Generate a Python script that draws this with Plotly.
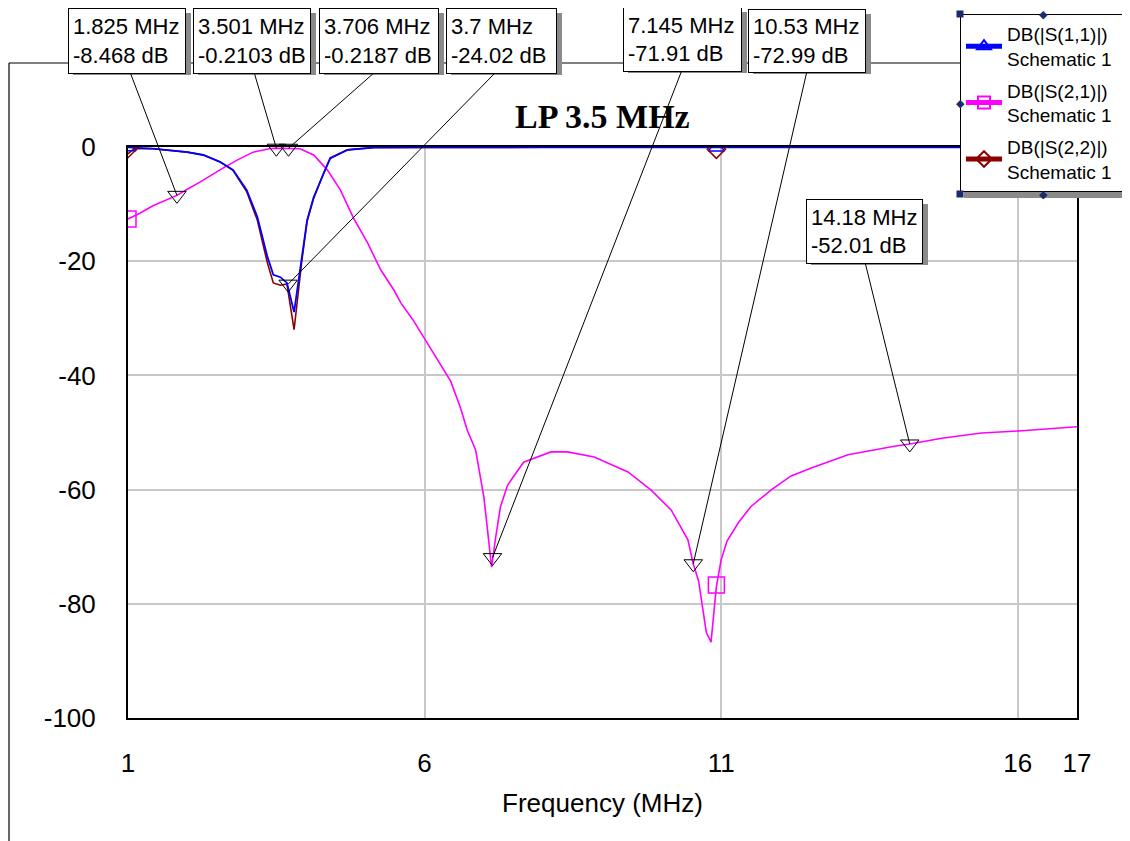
import plotly.graph_objects as go

# ---------------- data ----------------
freq21 = [1.0, 1.2, 1.42, 1.825, 2.0, 2.22, 2.55, 2.84, 3.11, 3.4, 3.501, 3.706, 3.9, 4.13,
          4.36, 4.58, 4.8, 5.04, 5.26, 5.48, 5.6, 5.8, 6.0, 6.2, 6.44, 6.6, 6.72, 6.86, 7.0,
          7.08, 7.13, 7.2, 7.28, 7.4, 7.67, 8.13, 8.41, 8.86, 9.43, 9.82, 10.16, 10.44, 10.53,
          10.62, 10.75, 10.83, 10.92, 11.0, 11.1, 11.29, 11.5, 11.85, 12.18, 12.52, 13.14,
          13.92, 14.18, 14.72, 15.39, 16.07, 17.0]
s21_db = [-12.6, -11.6, -10.3, -8.47, -7.4, -6.1, -4.0, -2.3, -0.9, -0.25, -0.21, -0.22, -0.3,
          -1.4, -4.0, -7.5, -12.4, -16.8, -21.5, -25.0, -27.3, -30.2, -33.5, -36.8, -41.0,
          -45.5, -49.6, -53.0, -61.3, -68.8, -73.6, -68.3, -63.0, -59.2, -55.2, -53.4, -53.4,
          -54.3, -56.9, -60.1, -63.6, -68.8, -73.0, -76.0, -85.0, -86.7, -77.0, -72.3, -69.0,
          -65.8, -63.0, -60.0, -57.6, -56.2, -53.9, -52.4, -52.0, -51.0, -50.1, -49.7, -49.0]

freq11 = [1.0, 1.1, 1.42, 2.0, 2.27, 2.55, 2.77, 3.0, 3.18, 3.35, 3.45, 3.57, 3.68, 3.8, 3.93,
          4.02, 4.13, 4.3, 4.41, 4.7, 5.14, 6.0, 8.0, 10.0, 10.92, 12.0, 14.0, 17.0]
s11_db = [-0.05, -0.1, -0.3, -0.9, -1.4, -2.6, -4.0, -7.5, -12.2, -19.2, -22.4, -22.8, -23.8,
          -28.9, -19.2, -12.8, -8.8, -4.4, -1.9, -0.5, -0.1, -0.05, -0.05, -0.05, -0.1,
          -0.05, -0.05, -0.05]
s22_db = [-1.2, -0.3, -0.3, -0.9, -1.4, -2.6, -4.1, -7.8, -12.8, -20.3, -23.8, -24.2, -24.0,
          -32.0, -20.0, -13.0, -9.0, -4.5, -2.0, -0.5, -0.1, -0.05, -0.05, -0.05, -0.1,
          -0.05, -0.05, -0.05]

# trace identification symbols (at start and near 10.92 MHz)
id_freq = [1.0, None, 10.92]
id_s11 = [-0.05, None, -0.1]
id_s21 = [-12.6, None, -76.7]
id_s22 = [-0.3, None, -0.4]

series_names = ["DB(|S(1,1)|)", "DB(|S(2,1)|)", "DB(|S(2,2)|)"]
series_sub = "Schematic 1"

# measurement markers
mk_freq = [1.825, 3.501, 3.706, 3.7, 7.145, 10.53, 14.18]
mk_db = [-8.468, -0.2103, -0.2187, -24.02, -71.91, -72.99, -52.01]
mk_text = ["1.825 MHz<br>-8.468 dB", "3.501 MHz<br>-0.2103 dB", "3.706 MHz<br>-0.2187 dB",
           "3.7 MHz<br>-24.02 dB", "7.145 MHz<br>-71.91 dB", "10.53 MHz<br>-72.99 dB",
           "14.18 MHz<br>-52.01 dB"]

x_ticks = [1, 6, 11, 16, 17]
x_ticktext = ["1", "6", "11", "16", "17"]
y_ticks = [0, -20, -40, -60, -80, -100]
y_ticktext = ["0", "-20", "-40", "-60", "-80", "-100"]

# ---------------- layout geometry (screen pixels) ----------------
SW, SH = 1130, 841
OFF = 8                     # page body margin
L, R, T, B = 128, 1077, 147, 718
PW, PH = R - L, B - T


def px(xp):
    return (xp - L) / PW


def py(yp):
    return (B - yp) / PH


# label boxes: left, top, width, height ; leader tail (pixel)
box_geom = [(68, 8, 118, 62), (193, 8, 118, 62), (319, 8, 120, 62), (446, 8, 111, 62),
            (623, 7, 119, 61), (748, 9, 118, 60), (806, 199, 117, 61)]
tails = [(130, 72), (254, 72), (375, 72), (496, 72), (682, 70), (807, 71), (865, 262)]

BLUE = "#0000FF"
MAG = "#FF00FF"
DRED = "#8B0000"
NAVY = "#1c2b6b"
SHADOW = "#8a8a8a"
FONT = "Liberation Sans, Arial, sans-serif"
PADSP = "\u2002\u2002"   # invisible padding so the legend box is as wide as the original

fig = go.Figure()

fig.add_trace(go.Scatter(x=freq21, y=s21_db, mode="lines", line=dict(color=MAG, width=1.6),
                         showlegend=False, hoverinfo="skip"))
fig.add_trace(go.Scatter(x=freq11, y=s22_db, mode="lines", line=dict(color=DRED, width=1.6),
                         showlegend=False, hoverinfo="skip"))
fig.add_trace(go.Scatter(x=freq11, y=s11_db, mode="lines", line=dict(color=BLUE, width=1.8),
                         showlegend=False, hoverinfo="skip"))

legend_specs = [(id_s11, BLUE, "triangle-up-open", 14),
                (id_s21, MAG, "square-open", 16),
                (id_s22, DRED, "diamond-open", 14)]
for i, ((ys, col, sym, sz), nm) in enumerate(zip(legend_specs, series_names)):
    fig.add_trace(go.Scatter(x=id_freq, y=ys, mode="lines+markers", connectgaps=False,
                             name=nm + PADSP + "<br>" + series_sub, legendrank=i + 1,
                             legendgroup="g%d" % i, line=dict(color=col, width=1),
                             marker=dict(symbol=sym, size=sz, color=col, line=dict(width=1.5))))

fig.add_trace(go.Scatter(x=mk_freq, y=mk_db, mode="markers", showlegend=False, cliponaxis=False,
                         hoverinfo="skip",
                         marker=dict(symbol="triangle-down-open", size=16, color="black",
                                     line=dict(width=1))))

annotations = []
shapes = []
# leader lines
for (tx, ty), f, v in zip(tails, mk_freq, mk_db):
    ppx = L + (f - x_ticks[0]) / (x_ticks[-1] - x_ticks[0]) * PW
    ppy = T + (0 - v) / (0 - y_ticks[-1]) * PH
    annotations.append(dict(x=f, y=v, xref="x", yref="y", text="", showarrow=True,
                            arrowhead=0, arrowwidth=1, arrowcolor="black", standoff=0,
                            ax=tx - ppx, ay=ty - ppy))
# boxes with shadows
for (bx, by, bw, bh), txt in zip(box_geom, mk_text):
    shapes.append(dict(type="rect", xref="paper", yref="paper", x0=px(bx + 5), x1=px(bx + bw + 5),
                       y0=py(by + 5), y1=py(by + bh + 5), fillcolor=SHADOW,
                       line=dict(width=0), layer="above"))
    annotations.append(dict(xref="paper", yref="paper", x=px(bx), y=py(by), xanchor="left",
                            yanchor="top", showarrow=False, align="left", width=bw - 10,
                            height=bh - 6, borderpad=4, borderwidth=1, text=txt,
                            font=dict(family=FONT, size=22, color="black"),
                            bgcolor="white", bordercolor="black"))

# title
annotations.append(dict(xref="paper", yref="paper", x=px(602), y=py(117), xanchor="center",
                        yanchor="middle", showarrow=False, text="<b>LP 3.5 MHz</b>",
                        font=dict(family="Liberation Serif, Times New Roman, serif", size=34,
                                  color="black")))

# legend selection handles
LG_L, LG_R, LG_T, LG_B = 960, 1126, 14, 194
for hx, hy in [(LG_L, LG_T), (LG_R, LG_T), (LG_L, LG_B), (LG_R, LG_B)]:
    annotations.append(dict(xref="paper", yref="paper", x=px(hx), y=py(hy), xanchor="center",
                            yanchor="middle", showarrow=False, text="", width=6, height=6,
                            borderpad=0, bgcolor=NAVY))
for hx, hy in [((LG_L + LG_R) / 2, LG_T), (LG_L, (LG_T + LG_B) / 2),
               (LG_R, (LG_T + LG_B) / 2), ((LG_L + LG_R) / 2, LG_B)]:
    annotations.append(dict(xref="paper", yref="paper", x=px(hx), y=py(hy), xanchor="center",
                            yanchor="middle", showarrow=False, text="◆",
                            font=dict(family="DejaVu Sans", size=11, color=NAVY)))

shapes += [
    dict(type="line", xref="paper", yref="paper", x0=px(9), x1=px(1130), y0=py(63), y1=py(63),
         line=dict(color="black", width=1.2), layer="below"),
    dict(type="line", xref="paper", yref="paper", x0=px(9), x1=px(9), y0=py(63), y1=py(841),
         line=dict(color="black", width=1.2), layer="below"),
    # legend shadow
    dict(type="rect", xref="paper", yref="paper", x0=px(964), x1=px(1130), y0=py(18),
         y1=py(198), fillcolor=SHADOW, line=dict(width=0), layer="above"),
]

fig.update_layout(
    width=SW - OFF, height=SH - OFF, autosize=False,
    margin=dict(l=L - OFF, r=SW - R, t=T - OFF, b=SH - B, pad=0, autoexpand=False),
    paper_bgcolor="white", plot_bgcolor="white",
    font=dict(family=FONT, color="black"),
    annotations=annotations, shapes=shapes,
    legend=dict(x=px(LG_L), y=py(LG_T), xanchor="left", yanchor="top", bgcolor="white",
                bordercolor="black", borderwidth=1, font=dict(family=FONT, size=19),
                itemsizing="constant", itemwidth=36, traceorder="grouped", tracegroupgap=4),
    xaxis=dict(range=[x_ticks[0], x_ticks[-1]], tickvals=x_ticks, ticktext=x_ticktext,
               showgrid=True, gridcolor="#c8c8c8", gridwidth=1.5, zeroline=False,
               showline=True, linecolor="black", linewidth=2, mirror=True,
               ticks="", ticklabelstandoff=21, tickfont=dict(size=26),
               title=dict(text="Frequency (MHz)", font=dict(size=26), standoff=17)),
    yaxis=dict(range=[y_ticks[-1], y_ticks[0]], tickvals=y_ticks, ticktext=y_ticktext,
               showgrid=True, gridcolor="#c8c8c8", gridwidth=1.5, zeroline=False,
               showline=True, linecolor="black", linewidth=2, mirror=True,
               ticks="", ticklabelstandoff=25, tickfont=dict(size=26)),
)

fig.write_html("out.html")
